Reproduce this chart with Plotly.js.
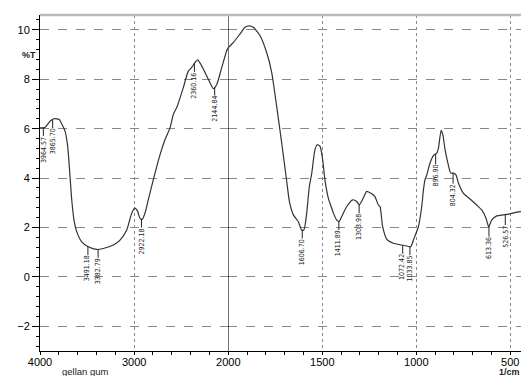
<!DOCTYPE html>
<html>
<head>
<meta charset="utf-8">
<script src="https://cdn.plot.ly/plotly-3.0.1.min.js"></script>
<style>html,body{margin:0;padding:0;background:#fff;}#chart{width:521px;height:376px;}</style>
</head>
<body>
<div id="chart"></div>
<script>
// Wavenumber (1/cm) and transmittance (%T)
const wavenumber = [4000,3947,3894,3851,3795,3770,3734,3706,3681,3663,3639,3610,3557,3487,3398,3328,3221,3150,3079,3026,2991,2962,2938,2913,2885,2850,2797,2725,2672,2619,2584,2542,2478,2425,2390,2355,2325,2283,2212,2159,2123,2070,2017,2000,
  1973,1938,1911,1890,1867,1831,1796,1769,1743,1716,1689,1675,1654,1628,1610,1598,1583,1569,1556,1539,1527,1512,1498,1486,1468,1450,1441,1423,1411,1397,1370,1338,1317,1303,1282,1264,1237,1220,1202,1193,1179,1157,1122,1078,1051,1030,1012,989,971,962,954,944,927,909,891,882,868,859,847,830,817,803,789,776,750,714,679,652,629,615,599,572,537,510,475,443];
const transmittance = [6.03,6.05,6.30,6.40,6.37,6.20,5.90,5.28,4.05,3.12,2.30,1.83,1.42,1.22,1.11,1.15,1.29,1.49,1.90,2.58,2.78,2.64,2.37,2.33,2.58,3.12,3.93,4.95,5.56,6.03,6.57,6.91,7.66,8.33,8.47,8.67,8.78,8.54,8.00,7.62,7.79,8.47,9.15,9.28,
  9.49,9.83,10.10,10.16,10.10,9.76,9.08,8.27,6.91,5.42,3.85,3.05,2.51,2.24,1.90,1.90,2.58,3.66,4.20,5.15,5.35,5.28,4.74,3.93,3.19,2.78,2.58,2.30,2.24,2.44,2.85,3.12,3.05,2.91,3.19,3.46,3.36,3.25,2.91,2.85,2.03,1.52,1.36,1.29,1.25,1.22,1.56,2.03,2.85,3.52,3.93,4.13,4.61,4.91,5.01,5.22,5.93,5.76,5.15,4.54,4.20,4.20,4.13,3.80,3.39,3.15,2.91,2.71,2.37,2.03,2.30,2.47,2.51,2.54,2.60,2.64];

// Peak labels
const peakLabels = ["3964.57","3865.70","3491.18","3382.79","2922.18","2360.16","2144.84","1606.70","1411.89","1303.98","1072.42","1033.85","896.90","804.32","613.36","526.57"];
const peakX = peakLabels.map(Number);

const xTicksLeft = [4000, 3000, 2000];
const xTicksRight = [1500, 1000, 500];
const SCALE_BREAK = 2000;

function curveAt(v){
  for (let i = 0; i < wavenumber.length - 1; i++){
    const a = wavenumber[i], b = wavenumber[i+1];
    if (v <= a && v >= b){
      const t = (a - v) / (a - b);
      return transmittance[i] + t * (transmittance[i+1] - transmittance[i]);
    }
  }
  return transmittance[transmittance.length-1];
}

const leftX = [], leftY = [], rightX = [], rightY = [];
wavenumber.forEach((w, i) => {
  if (w >= SCALE_BREAK){ leftX.push(w); leftY.push(transmittance[i]); }
  if (w <= SCALE_BREAK){ rightX.push(w); rightY.push(transmittance[i]); }
});

const lineStyle = {color:'#333', width:1.2, shape:'spline', smoothing:0.6};
const traces = [
  {x:leftX, y:leftY, xaxis:'x', yaxis:'y', mode:'lines', line:lineStyle, hoverinfo:'skip'},
  {x:rightX, y:rightY, xaxis:'x2', yaxis:'y', mode:'lines', line:lineStyle, hoverinfo:'skip'}
];

const tickFont = {family:'Liberation Sans, Arial, sans-serif', size:11, color:'#000'};
const labelFont = {family:'Liberation Sans Narrow, DejaVu Sans Condensed, Arial Narrow, sans-serif', size:7, color:'#222'};

const annotations = peakX.map((v, i) => ({
  x: v, y: curveAt(v),
  xref: v >= SCALE_BREAK ? 'x' : 'x2', yref: 'y',
  text: peakLabels[i], textangle: -90, font: labelFont,
  showarrow: true, arrowhead: 0, arrowwidth: 1, arrowcolor: '#222',
  ax: 0, ay: 22, standoff: 0, borderpad: 0
}));
annotations.push(
  {xref:'paper', yref:'y', x:-0.042, y:9.0, text:'<b>%T</b>', showarrow:false, font:{family:'Liberation Sans, Arial, sans-serif', size:9, color:'#222'}},
  {xref:'paper', yref:'paper', x:0.044, y:-0.060, yanchor:'middle', text:'gellan gum', showarrow:false, borderpad:0, font:{family:'Liberation Sans, Arial, sans-serif', size:9.5, color:'#222'}},
  {xref:'paper', yref:'paper', x:1, xanchor:'right', yanchor:'middle', y:-0.062, text:'<b>1/cm</b>', showarrow:false, borderpad:0, font:{family:'Liberation Sans, Arial, sans-serif', size:9, color:'#222'}}
);

const split = 0.3915;
const xCommon = {
  showline:true, linecolor:'#000', linewidth:1, ticks:'outside', ticklen:3, tickcolor:'#000',
  ticklabelstandoff:-2,
  showgrid:true, gridcolor:'#888', griddash:'dot', gridwidth:1, zeroline:false,
  tickfont:tickFont, anchor:'y', tickmode:'array', fixedrange:true
};
const layout = {
  width:521, height:376,
  margin:{l:40, r:0, t:15, b:25},
  paper_bgcolor:'#fff', plot_bgcolor:'#fff',
  showlegend:false,
  xaxis: Object.assign({}, xCommon, {domain:[0, split], range:[4000, SCALE_BREAK], tickvals:xTicksLeft,
    minor:{tickmode:'linear', tick0:0, dtick:200, ticks:'outside', ticklen:3, tickcolor:'#000', showgrid:false}}),
  xaxis2: Object.assign({}, xCommon, {domain:[split, 1], range:[SCALE_BREAK, 443], tickvals:xTicksRight,
    minor:{tickmode:'linear', tick0:0, dtick:100, ticks:'outside', ticklen:3, tickcolor:'#000', showgrid:false}}),
  yaxis:{range:[-3, 10.6], tickmode:'linear', tick0:0, dtick:2, showline:true, linecolor:'#000', linewidth:1,
    ticks:'outside', ticklen:7, tickcolor:'#000', showgrid:true, gridcolor:'#888', griddash:'dash', gridwidth:1,
    zeroline:false, tickfont:tickFont, fixedrange:true,
    minor:{tickmode:'linear', tick0:0, dtick:0.4, ticks:'outside', ticklen:3, tickcolor:'#000', showgrid:false}},
  shapes:[
    {type:'line', xref:'x2', yref:'paper', x0:SCALE_BREAK, x1:SCALE_BREAK, y0:0, y1:1, line:{color:'#000', width:1}},
    {type:'line', xref:'paper', yref:'paper', x0:0, x1:1, y0:1, y1:1, line:{color:'#bbb', width:2.5}}
  ],
  annotations: annotations
};

Plotly.newPlot('chart', traces, layout, {staticPlot:true, displayModeBar:false});
</script>
</body>
</html>
